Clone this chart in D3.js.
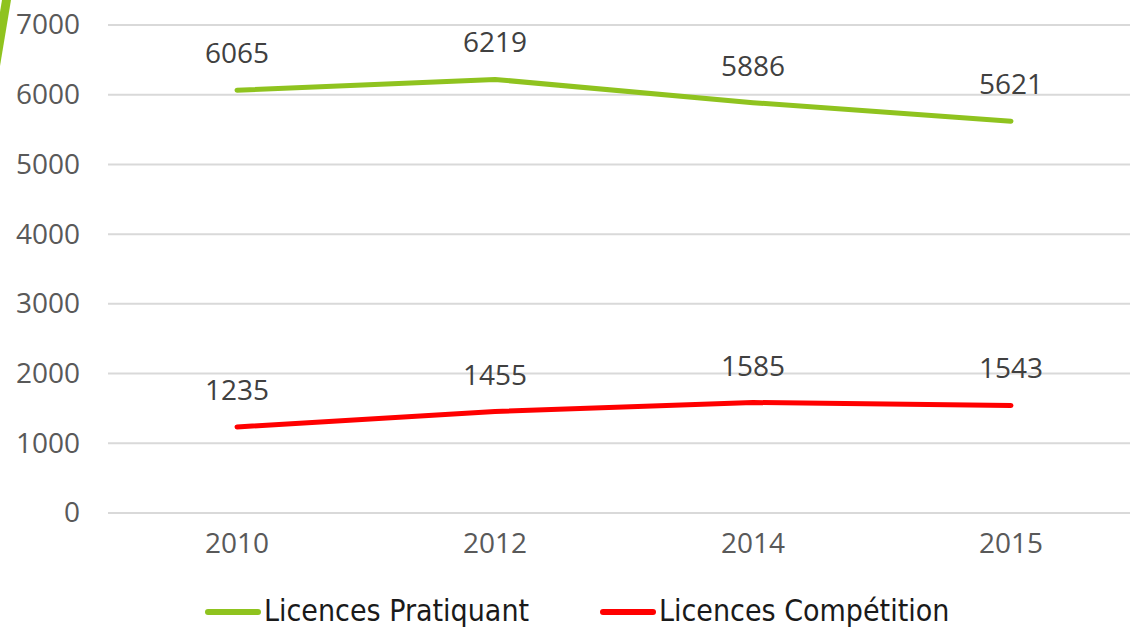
<!DOCTYPE html>
<html>
<head>
<meta charset="utf-8">
<script src="https://cdn.jsdelivr.net/npm/d3@7"></script>
<style>
  body { margin: 0; background: #fff; }
  svg { display: block; }
</style>
</head>
<body>
<script>
// data
var years = ["2010", "2012", "2014", "2015"];
var pratiquant = [6065, 6219, 5886, 5621];
var competition = [1235, 1455, 1585, 1543];
var yTicks = [0, 1000, 2000, 3000, 4000, 5000, 6000, 7000];
var seriesNames = ["Licences Pratiquant", "Licences Compétition"];
var seriesColors = ["#8fc31f", "#ff0000"];

var W = 1130, H = 629,
    margin = {top: 25, right: -10, bottom: 116, left: 108},
    width = W - margin.left - margin.right,
    height = H - margin.top - margin.bottom;

var svg = d3.select("body").append("svg")
    .attr("width", W)
    .attr("height", H);

// green corner decoration
svg.append("polygon")
    .attr("points", "2,0 11,0 0,66 0,12")
    .attr("fill", "#8fc31f");

var g = svg.append("g")
    .attr("transform", "translate(" + margin.left + "," + margin.top + ")");

var x = d3.scaleBand()
    .domain(years)
    .range([0, width]);

var y = d3.scaleLinear()
    .domain([0, 7000])
    .range([height, 0]);

// grid
g.selectAll(".grid")
    .data(yTicks)
  .enter().append("line")
    .attr("class", "grid")
    .attr("x1", 0)
    .attr("x2", width)
    .attr("y1", d => y(d))
    .attr("y2", d => y(d))
    .attr("stroke", "#d9d9d9")
    .attr("stroke-width", 2);

// y axis
var yAxis = g.append("g")
    .call(d3.axisLeft(y).tickValues(yTicks).tickFormat(d3.format("d")).tickSize(0).tickPadding(28));
yAxis.select(".domain").remove();
yAxis.selectAll("text")
    .attr("fill", "#595959")
    .style("font-family", "'Open Sans', sans-serif")
    .style("font-size", "28px");

// x axis
var xAxis = g.append("g")
    .attr("transform", "translate(0," + height + ")")
    .call(d3.axisBottom(x).tickSize(0).tickPadding(20));
xAxis.select(".domain").remove();
xAxis.selectAll("text")
    .attr("fill", "#595959")
    .style("font-family", "'Open Sans', sans-serif")
    .style("font-size", "28px");

var line = d3.line()
    .x((d, i) => x(years[i]) + x.bandwidth() / 2)
    .y(d => y(d));

[pratiquant, competition].forEach(function(s, k) {
  g.append("path")
    .datum(s)
    .attr("d", line)
    .attr("fill", "none")
    .attr("stroke", seriesColors[k])
    .attr("stroke-width", 5)
    .attr("stroke-linecap", "round")
    .attr("stroke-linejoin", "round");

  g.selectAll(".lbl" + k)
    .data(s)
  .enter().append("text")
    .attr("x", (d, i) => x(years[i]) + x.bandwidth() / 2)
    .attr("y", d => y(d) - 27)
    .attr("text-anchor", "middle")
    .attr("fill", "#404040")
    .style("font-family", "'Open Sans', sans-serif")
    .style("font-size", "28px")
    .text(d => d);
});

// legend
var legendX = [206, 601];
var legend = svg.selectAll(".legend")
    .data(seriesNames)
  .enter().append("g")
    .attr("transform", (d, i) => "translate(" + legendX[i] + ",612)");

legend.append("line")
    .attr("x1", 2).attr("x2", 52)
    .attr("stroke", (d, i) => seriesColors[i])
    .attr("stroke-width", 6)
    .attr("stroke-linecap", "round");

legend.append("text")
    .attr("x", 58)
    .attr("y", 9)
    .attr("fill", "#1a1a1a")
    .style("font-family", "'DejaVu Sans Condensed', sans-serif")
    .style("font-size", "30px")
    .text(d => d);
</script>
</body>
</html>
